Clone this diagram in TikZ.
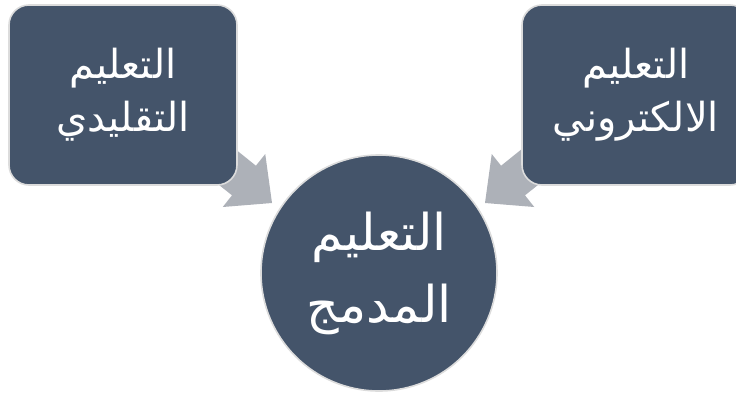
\documentclass[tikz,border=0pt]{standalone}
\usepackage{fontspec}
\newfontfamily\arabicfont[Script=Arabic]{DejaVu Sans}
\TeXXeTstate=1
\definecolor{ardoise}{HTML}{44546A}
\definecolor{grisfleche}{HTML}{ADB1B8}
\definecolor{bordure}{HTML}{DCDCDC}

\begin{document}
\begin{tikzpicture}[x=0.75pt,y=-0.75pt,
    boite/.style={fill=ardoise,draw=bordure,line width=1.2pt,rounded corners=15pt,
      minimum width=171pt,minimum height=135pt,text=white,align=center,
      font=\arabicfont\fontsize{30}{40}\selectfont},
    rond/.style={circle,fill=ardoise,draw=bordure,line width=1.2pt,
      minimum size=177pt,text=white,align=center,
      font=\arabicfont\fontsize{38}{54}\selectfont}]

    % Cadre (736 x 397 px)
    \useasboundingbox (0,0) rectangle (736,397);
    \clip (0,0) rectangle (736,397);

    % Flèches (la queue passe sous les boîtes)
    \fill[grisfleche] (209,128) -- (255.9,165.7) -- (265.25,154) -- (272,203)
      -- (222.75,207) -- (232,195.3) -- (185,158) -- cycle;
    \fill[grisfleche] (548,128) -- (501.1,165.7) -- (491.75,154) -- (485,203)
      -- (534.25,207) -- (525,195.3) -- (572,158) -- cycle;

    % Boîtes
    \node[boite] (trad) at (123,95) {\beginR التعليم\endR\\\beginR التقليدي\endR};
    \node[boite] (elec) at (636,95) {\beginR التعليم\endR\\\beginR الالكتروني\endR};

    % Cercle central
    \node[rond] (mixte) at (379,273) {\beginR التعليم\endR\\\beginR المدمج\endR};

  \end{tikzpicture}
\end{document}
